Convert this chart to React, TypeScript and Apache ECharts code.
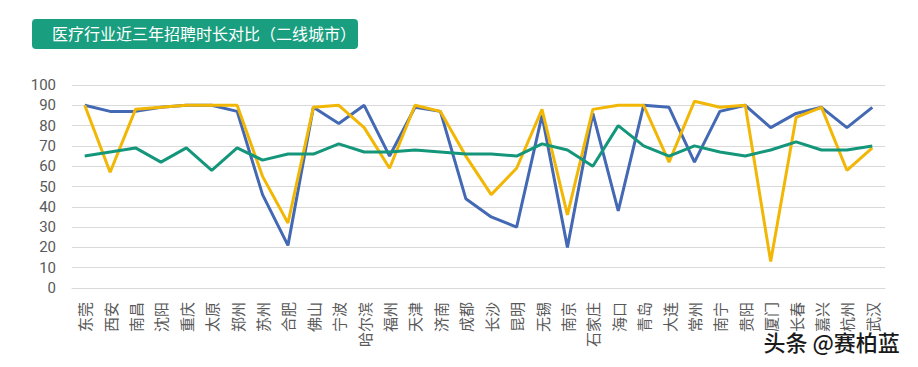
import React, { useEffect, useRef } from "react";
import * as echarts from "echarts";

const categories = ["东莞","西安","南昌","沈阳","重庆","太原","郑州","苏州","合肥","佛山","宁波","哈尔滨","福州","天津","济南","成都","长沙","昆明","无锡","南京","石家庄","海口","青岛","大连","常州","南宁","贵阳","厦门","长春","嘉兴","杭州","武汉"];
const blueValues = [90,87,87,89,90,90,87,46,21,89,81,90,65,89,87,44,35,30,85,20,86,38,90,89,62,87,90,79,86,89,79,89];
const yellowValues = [90,57,88,89,90,90,90,55,32,89,90,79,59,90,87,65,46,59,88,36,88,90,90,62,92,89,90,13,84,89,58,69];
const greenValues = [65,67,69,62,69,58,69,63,66,66,71,67,67,68,67,66,66,65,71,68,60,80,70,65,70,67,65,68,72,68,68,70];
const titleText = "医疗行业近三年招聘时长对比（二线城市）";
const watermark = "头条 @赛柏蓝";

export default function App() {
  const ref = useRef<HTMLDivElement>(null);
  useEffect(() => {
    const chart = echarts.init(ref.current!, null, { renderer: "svg" });
    const lineStyle = (c: string) => ({ color: c, width: 3 });
    chart.setOption({
      animation: false,
      backgroundColor: "#ffffff",
      grid: { left: 72, right: 33, top: 85, bottom: 79 },
      graphic: [
        {
          type: "rect",
          left: 32,
          top: 19,
          shape: { width: 326, height: 30, r: 4 },
          style: { fill: "#1a9e80" },
        },
        {
          type: "text",
          left: 52,
          top: 25,
          style: {
            text: titleText,
            fill: "#ffffff",
            font: '16px "Noto Sans CJK SC"',
          },
        },
        {
          type: "text",
          left: 762,
          top: 328,
          z: 100,
          style: {
            text: watermark,
            fill: "#1a1a1a",
            stroke: "#ffffff",
            lineWidth: 3,
            font: '500 22px "Noto Sans CJK SC"',
          },
        },
      ],
      xAxis: {
        type: "category",
        data: categories,
        boundaryGap: true,
        axisLine: { show: true, lineStyle: { color: "#d9d9d9", width: 1 } },
        axisTick: { show: false },
        axisLabel: {
          rotate: 90,
          interval: 0,
          margin: 14,
          color: "#595959",
          fontSize: 15,
          fontFamily: '"Noto Sans CJK SC"',
        },
      },
      yAxis: {
        type: "value",
        min: 0,
        max: 100,
        interval: 10,
        axisLine: { show: false },
        axisTick: { show: false },
        splitLine: { lineStyle: { color: "#d9d9d9", width: 1 } },
        axisLabel: {
          color: "#595959",
          fontSize: 15,
          margin: 16,
          fontFamily: "Roboto",
        },
      },
      series: [
        {
          type: "line",
          data: blueValues,
          symbol: "none",
          lineStyle: lineStyle("#4368b4"),
          z: 3,
        },
        {
          type: "line",
          data: yellowValues,
          symbol: "none",
          lineStyle: lineStyle("#f2b705"),
          z: 4,
        },
        {
          type: "line",
          data: greenValues,
          symbol: "none",
          lineStyle: lineStyle("#14967a"),
          z: 5,
        },
      ],
    });
    return () => chart.dispose();
  }, []);
  return <div ref={ref} style={{ width: 918, height: 367, position: "absolute", left: 0, top: 0 }} />;
}
